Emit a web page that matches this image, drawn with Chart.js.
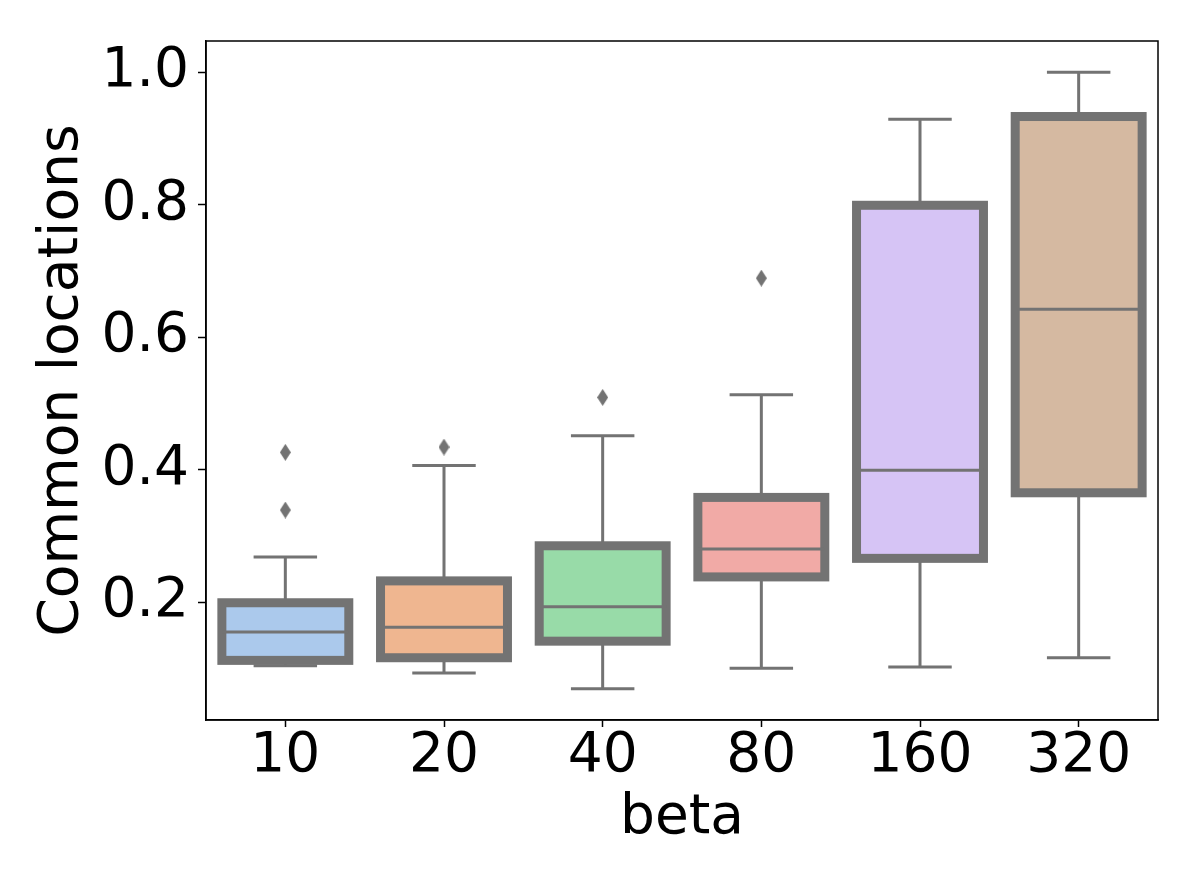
<!DOCTYPE html>
<html>
<head>
<meta charset="utf-8">
<script src="https://cdn.jsdelivr.net/npm/chart.js@4.4.1/dist/chart.umd.min.js"></script>
<style>
  html, body { margin: 0; padding: 0; background: #fff; }
  canvas { display: block; }
</style>
</head>
<body>
<canvas id="boxChart" width="1196" height="884"></canvas>
<script>
// values
const categories = ['10', '20', '40', '80', '160', '320'];
const whiskerLow = [0.104, 0.093, 0.069, 0.100, 0.102, 0.116];
const q1 = [0.112, 0.116, 0.141, 0.238, 0.266, 0.365];
const median = [0.155, 0.162, 0.193, 0.280, 0.399, 0.642];
const q3 = [0.199, 0.232, 0.285, 0.358, 0.799, 0.933];
const whiskerHigh = [0.268, 0.406, 0.451, 0.513, 0.929, 1.000];
const outlierCat = ['10', '10', '20', '40', '80'];
const outlierVal = [0.426, 0.339, 0.434, 0.509, 0.689];
const yTicks = [0.2, 0.4, 0.6, 0.8, 1.0];

const boxColors = ['#abc9ec', '#efb690', '#98dba8', '#f1aaa6', '#d6c4f5', '#d5b9a1'];
const edgeGray = '#737373';
const fontFamily = "'DejaVu Sans', sans-serif";

// thin diamond like matplotlib's 'd' marker
const diamond = document.createElement('canvas');
diamond.width = 11;
diamond.height = 17;
(function () {
  const c = diamond.getContext('2d');
  c.fillStyle = edgeGray;
  c.beginPath();
  c.moveTo(5.5, 0);
  c.lineTo(11, 8.5);
  c.lineTo(5.5, 17);
  c.lineTo(0, 8.5);
  c.closePath();
  c.fill();
})();

const boxPlugin = {
  id: 'boxParts',
  afterDatasetsDraw(chart) {
    const ctx = chart.ctx;
    const y = chart.scales.y;
    const meta = chart.getDatasetMeta(0);
    ctx.save();
    ctx.strokeStyle = edgeGray;
    ctx.lineCap = 'butt';
    meta.data.forEach((bar, i) => {
      const x = bar.x;
      const w = bar.width;
      const yLo = y.getPixelForValue(whiskerLow[i]);
      const yQ1 = y.getPixelForValue(q1[i]);
      const yMed = y.getPixelForValue(median[i]);
      const yQ3 = y.getPixelForValue(q3[i]);
      const yHi = y.getPixelForValue(whiskerHigh[i]);
      // whiskers and caps
      ctx.lineWidth = 3;
      ctx.beginPath();
      ctx.moveTo(x, yQ1); ctx.lineTo(x, yLo);
      ctx.moveTo(x, yQ3); ctx.lineTo(x, yHi);
      ctx.moveTo(x - w / 4, yLo); ctx.lineTo(x + w / 4, yLo);
      ctx.moveTo(x - w / 4, yHi); ctx.lineTo(x + w / 4, yHi);
      ctx.stroke();
      // box edge
      ctx.lineWidth = 9;
      ctx.lineJoin = 'miter';
      ctx.strokeRect(x - w / 2, yQ3, w, yQ1 - yQ3);
      // median
      ctx.lineWidth = 3;
      ctx.beginPath();
      ctx.moveTo(x - w / 2, yMed); ctx.lineTo(x + w / 2, yMed);
      ctx.stroke();
    });
    // frame around the axes
    const a = chart.chartArea;
    ctx.strokeStyle = '#000';
    ctx.lineWidth = 1.5;
    ctx.strokeRect(a.left, a.top, a.right - a.left, a.bottom - a.top);
    ctx.restore();
  }
};

const ctx = document.getElementById('boxChart').getContext('2d');
const boxChart = new Chart(ctx, {
  type: 'bar',
  data: {
    labels: categories,
    datasets: [{
      label: 'box',
      data: categories.map((c, i) => [q1[i], q3[i]]),
      backgroundColor: boxColors,
      borderWidth: 0,
      categoryPercentage: 0.8,
      barPercentage: 1.0
    }, {
      type: 'line',
      label: 'outliers',
      data: outlierCat.map((c, i) => ({ x: c, y: outlierVal[i] })),
      showLine: false,
      pointStyle: diamond,
      pointBackgroundColor: edgeGray,
      pointBorderWidth: 0
    }]
  },
  options: {
    responsive: false,
    animation: false,
    devicePixelRatio: 1,
    layout: { padding: { top: 41, right: 38, left: 0, bottom: 0 } },
    plugins: {
      legend: { display: false },
      tooltip: { enabled: false }
    },
    scales: {
      x: {
        offset: true,
        grid: {
          offset: false,
          drawOnChartArea: false,
          drawTicks: true,
          tickLength: 7,
          tickColor: '#000',
          tickWidth: 1.5
        },
        border: { display: true, color: '#000', width: 1.5 },
        ticks: {
          color: '#000',
          padding: 2,
          font: { family: fontFamily, size: 55, lineHeight: 1 }
        },
        title: {
          display: true,
          text: 'beta',
          color: '#000',
          padding: { top: 0, bottom: 38 },
          font: { family: fontFamily, size: 55, lineHeight: 1 }
        },
        afterFit(scale) { scale.height = 164; }
      },
      y: {
        min: 0.022,
        max: 1.047,
        grid: {
          drawOnChartArea: false,
          drawTicks: true,
          tickLength: 8,
          tickColor: '#000',
          tickWidth: 1.5
        },
        border: { display: true, color: '#000', width: 1.5 },
        afterBuildTicks(scale) {
          scale.ticks = yTicks.map(v => ({ value: v }));
        },
        ticks: {
          color: '#000',
          padding: 9,
          font: { family: fontFamily, size: 55, lineHeight: 1 },
          callback: function (value) {
            return value.toFixed(1);
          }
        },
        title: {
          display: true,
          text: 'Common locations',
          color: '#000',
          padding: { top: 35, bottom: 0 },
          font: { family: fontFamily, size: 55, lineHeight: 1 }
        },
        afterFit(scale) { scale.width = 206; }
      }
    }
  },
  plugins: [boxPlugin]
});
</script>
</body>
</html>
